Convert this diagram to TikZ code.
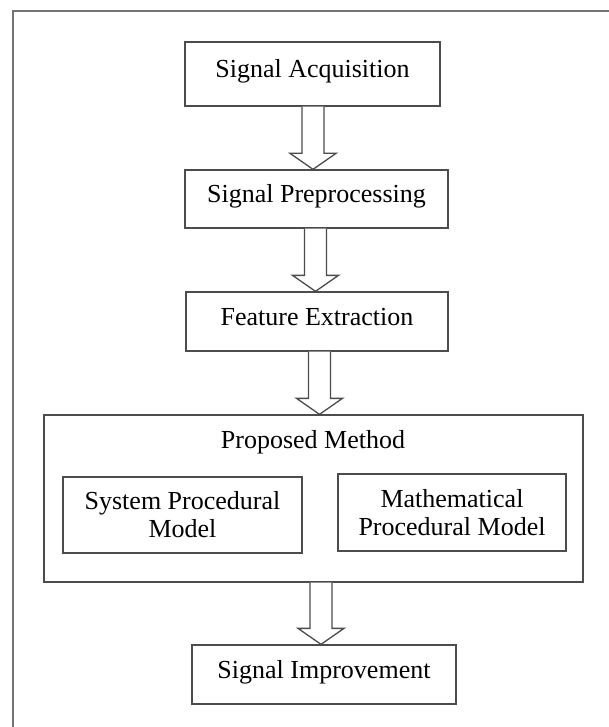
\documentclass[tikz,border=0pt]{standalone}
\usepackage{fontspec}
\setmainfont{Liberation Serif}
\usetikzlibrary{calc}
\tikzset{
  box/.style={draw=black!70, line width=1.3pt, rectangle, inner sep=0pt,
    font=\fontsize{26}{28}\selectfont, align=center},
  onel/.style={text height=14pt, text depth=7pt},
  barrowline/.style={draw=black!70, line width=1.3pt, fill=white, line join=miter},
  frameline/.style={draw=black!55, line width=2pt},
  lbl/.style={font=\fontsize{26}{28}\selectfont, inner sep=0pt, anchor=base},
}
\newcommand\blockarrow[3]{%
  \coordinate (ax) at (#3,0);
  \draw[barrowline] ($(#1.south -| ax)+(-11pt,0)$) -- ($(#2.north -| ax)+(-11pt,16pt)$)
    -- ++(-12pt,0) -- (#2.north -| ax) -- ++(23pt,16pt) -- ++(-12pt,0)
    -- ($(#1.south -| ax)+(11pt,0)$);}
\begin{document}
\begin{tikzpicture}[x=1pt,y=-1pt]
\useasboundingbox (0,0) rectangle (608,727);
\fill[white] (0,0) rectangle (608,727);
\draw[frameline] (13,745) -- (13,11) -- (625,11);

\node[box,onel,minimum width=255,minimum height=64] (b1) at (312.5,74) {Signal Acquisition};
\node[box,onel,minimum width=263,minimum height=58] (b2) at (316.5,199) {Signal Preprocessing};
\node[box,onel,minimum width=262,minimum height=59] (b3) at (317,321.5) {Feature Extraction};
\node[box,minimum width=539,minimum height=167] (pm) at (313.5,498.5) {};
\node[lbl] (pml) at (313,448) {Proposed Method};
\node[box,minimum width=239,minimum height=76] (spm) at (182.5,515) {System Procedural\\Model};
\node[box,text depth=0pt,minimum width=228,minimum height=77] (mpm) at (452,512.5) {Mathematical\\Procedural Model};
\node[box,onel,minimum width=264,minimum height=59] (si) at (324,674.5) {Signal Improvement};

\blockarrow{b1}{b2}{313}
\blockarrow{b2}{b3}{315.5}
\blockarrow{b3}{pm}{319.5}
\blockarrow{pm}{si}{321}
\end{tikzpicture}
\end{document}
